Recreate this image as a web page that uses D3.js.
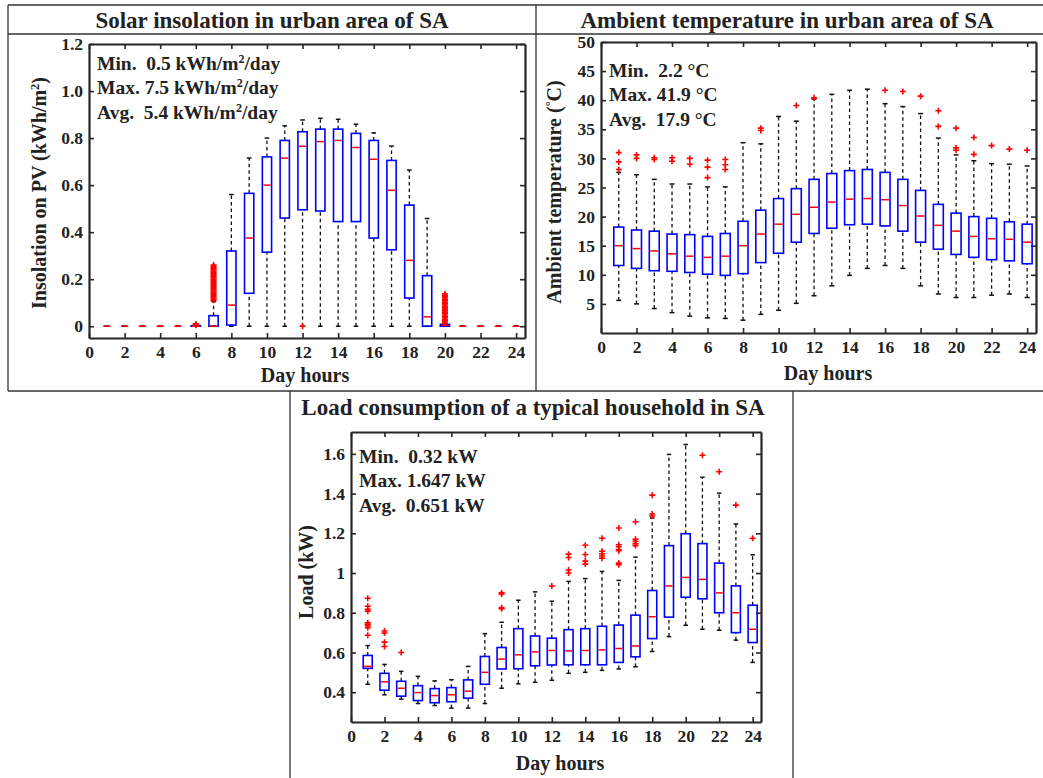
<!DOCTYPE html>
<html>
<head>
<meta charset="utf-8">
<script src="https://cdn.jsdelivr.net/npm/d3@7"></script>
<style>
body { margin: 0; background: #fff; }
text { font-family: "Liberation Serif", "Times New Roman", serif; font-weight: bold; fill: #222; }
</style>
</head>
<body>
<script>
// categories
const hours = [1, 2, 3, 4, 5, 6, 7, 8, 9, 10, 11, 12, 13, 14, 15, 16, 17, 18, 19, 20, 21, 22, 23, 24];
const xTicks = [0, 2, 4, 6, 8, 10, 12, 14, 16, 18, 20, 22, 24];

// solar insolation (kWh/m2)
const solarLow  = [0, 0, 0, 0, 0, 0, 0, 0, 0, 0, 0, 0, 0, 0, 0, 0, 0, 0, 0, 0, 0, 0, 0, 0];
const solarQ1   = [0, 0, 0, 0, 0, 0, 0, 0.005, 0.14, 0.315, 0.46, 0.495, 0.49, 0.445, 0.445, 0.375, 0.325, 0.12, 0, 0, 0, 0, 0, 0];
const solarMed  = [0, 0, 0, 0, 0, 0, 0, 0.09, 0.375, 0.60, 0.715, 0.765, 0.785, 0.79, 0.76, 0.71, 0.578, 0.28, 0.04, 0.004, 0, 0, 0, 0];
const solarQ3   = [0, 0, 0, 0, 0, 0.002, 0.045, 0.32, 0.565, 0.72, 0.79, 0.827, 0.838, 0.838, 0.82, 0.79, 0.705, 0.515, 0.215, 0.008, 0, 0, 0, 0];
const solarHigh = [0, 0, 0, 0, 0, 0.002, 0.105, 0.56, 0.715, 0.80, 0.852, 0.877, 0.884, 0.88, 0.859, 0.822, 0.766, 0.664, 0.458, 0.01, 0, 0, 0, 0];
const solarOut  = [[], [], [], [], [], [0.004, 0.007, 0.01],
  [0.11, 0.115, 0.12, 0.125, 0.13, 0.135, 0.14, 0.145, 0.15, 0.155, 0.16, 0.165, 0.17, 0.175, 0.18, 0.185, 0.19, 0.195, 0.2, 0.205, 0.21, 0.215, 0.22, 0.225, 0.23, 0.235, 0.24, 0.245, 0.25, 0.255, 0.26],
  [], [], [], [], [0], [], [], [], [], [], [], [],
  [0.012, 0.018, 0.024, 0.03, 0.036, 0.042, 0.048, 0.054, 0.06, 0.066, 0.072, 0.078, 0.084, 0.09, 0.096, 0.102, 0.108, 0.114, 0.12, 0.126, 0.132, 0.138],
  [], [], [], []];
const solarTicks = [0, 0.2, 0.4, 0.6, 0.8, 1.0, 1.2];
const solarTickLabels = ["0", "0.2", "0.4", "0.6", "0.8", "1.0", "1.2"];

// ambient temperature (C)
const tempLow  = [5.6, 5.0, 4.2, 3.5, 2.9, 2.6, 2.5, 2.2, 3.2, 3.9, 5.1, 6.4, 8.1, 9.9, 11.1, 11.6, 11.1, 8.1, 6.7, 6.1, 6.1, 6.5, 6.7, 6.1];
const tempQ1   = [11.6, 11.1, 10.7, 10.6, 10.4, 10.1, 9.9, 10.2, 12.1, 13.7, 15.6, 17.1, 18.0, 18.6, 18.7, 18.4, 17.5, 15.6, 14.4, 13.5, 13.0, 12.6, 12.4, 11.9];
const tempMed  = [15.0, 14.5, 14.1, 13.6, 13.2, 13.0, 13.2, 15.0, 17.0, 18.7, 20.4, 21.6, 22.5, 23.0, 23.1, 22.9, 21.9, 20.1, 18.5, 17.5, 16.6, 16.2, 16.1, 15.6];
const tempQ3   = [18.2, 17.7, 17.5, 17.0, 16.9, 16.6, 17.1, 19.2, 21.1, 23.1, 24.8, 26.4, 27.4, 27.9, 28.1, 27.6, 26.4, 24.5, 22.1, 20.6, 20.0, 19.7, 19.1, 18.7];
const tempHigh = [27.6, 27.2, 26.4, 25.6, 25.6, 25.1, 25.1, 32.7, 32.5, 37.2, 36.4, 40.2, 41.0, 41.7, 41.9, 39.4, 38.9, 37.7, 33.5, 30.6, 29.6, 29.1, 29.0, 28.7];
const tempOut  = [[31.0, 29.4, 28.1], [30.6, 30.0], [30.1, 29.8], [30.1, 29.5], [30.0, 29.0], [29.7, 28.5, 26.7],
  [29.8, 28.9, 28.1], [], [35.2, 34.8], [], [39.1], [40.4], [], [], [], [41.7], [41.5], [40.7],
  [38.2, 35.5], [35.2, 31.8, 31.4], [33.6, 30.7], [32.2], [31.6], [31.4]];
const tempTicks = [5, 10, 15, 20, 25, 30, 35, 40, 45, 50];
const tempTickLabels = ["5", "10", "15", "20", "25", "30", "35", "40", "45", "50"];

// household load (kW)
const loadLow  = [0.44, 0.387, 0.365, 0.343, 0.333, 0.32, 0.32, 0.343, 0.42, 0.442, 0.45, 0.46, 0.495, 0.5, 0.51, 0.517, 0.528, 0.605, 0.68, 0.737, 0.717, 0.712, 0.662, 0.55];
const loadQ1   = [0.52, 0.41, 0.38, 0.358, 0.347, 0.352, 0.37, 0.44, 0.517, 0.518, 0.533, 0.537, 0.538, 0.538, 0.538, 0.55, 0.578, 0.67, 0.778, 0.878, 0.87, 0.8, 0.7, 0.65];
const loadMed  = [0.53, 0.452, 0.42, 0.398, 0.383, 0.387, 0.405, 0.5, 0.567, 0.588, 0.603, 0.61, 0.608, 0.61, 0.613, 0.62, 0.633, 0.78, 0.935, 0.978, 0.968, 0.9, 0.8, 0.717];
const loadQ3   = [0.585, 0.495, 0.455, 0.433, 0.418, 0.423, 0.462, 0.58, 0.625, 0.72, 0.683, 0.672, 0.715, 0.72, 0.732, 0.738, 0.788, 0.912, 1.138, 1.198, 1.148, 1.05, 0.935, 0.838];
const loadHigh = [0.635, 0.54, 0.505, 0.48, 0.457, 0.463, 0.53, 0.695, 0.752, 0.863, 0.905, 0.858, 0.958, 0.972, 1.008, 0.963, 1.08, 1.277, 1.597, 1.647, 1.482, 1.402, 1.247, 1.092];
const loadOut  = [[0.873, 0.833, 0.818, 0.808, 0.75, 0.742, 0.735, 0.725, 0.687], [0.708, 0.698, 0.652, 0.63], [0.6], [], [], [], [], [],
  [0.9, 0.895, 0.825, 0.82], [], [], [0.935], [1.095, 1.078, 1.015, 1.0], [1.14, 1.093, 1.06, 1.045],
  [1.175, 1.11, 1.097, 1.087, 1.075], [1.227, 1.142, 1.132, 1.118, 1.112, 1.05, 1.042], [1.258, 1.17, 1.16, 1.148, 1.138],
  [1.392, 1.297, 1.287], [], [], [1.593], [1.51], [1.342], [1.175]];
const loadTicks = [0.4, 0.6, 0.8, 1, 1.2, 1.4, 1.6];
const loadTickLabels = ["0.4", "0.6", "0.8", "1", "1.2", "1.4", "1.6"];

const svg = d3.select("body").append("svg")
    .attr("width", 1043)
    .attr("height", 778);

// table frame around the three panels
const frame = [
    [8, 5, 1043, 5], [8, 34, 1043, 34], [8, 391, 1043, 391],
    [8, 5, 8, 391], [536, 5, 536, 391],
    [290, 391, 290, 778], [793, 391, 793, 778]
];
frame.forEach(f =>
    svg.append("line")
        .attr("x1", f[0]).attr("y1", f[1])
        .attr("x2", f[2]).attr("y2", f[3])
        .attr("stroke", "#333")
        .attr("stroke-width", 1.3)
);

function addText(x, y, size, parts, anchor, rotate) {
    let t = svg.append("text")
        .attr("font-size", size)
        .attr("text-anchor", anchor || "start")
        .style("white-space", "pre");
    if (rotate) t.attr("transform", `translate(${x},${y}) rotate(-90)`);
    else t.attr("x", x).attr("y", y);
    parts.forEach(p => {
        if (typeof p === "string") t.append("tspan").text(p);
        else t.append("tspan").attr("baseline-shift", "super").attr("font-size", size * 0.62).text(p.sup);
    });
    return t;
}

function boxPanel(o) {
    let x = d3.scaleLinear().domain([0, 24.5]).range([o.left, o.right]);
    let y = d3.scaleLinear().domain(o.yDomain).range([o.bottom, o.top]);
    let g = svg.append("g");

    // axes, ticks inward on all four sides
    let axB = g.append("g").attr("transform", `translate(0,${o.bottom})`)
        .call(d3.axisBottom(x).tickValues(xTicks).tickSize(-5).tickSizeOuter(0).tickPadding(8).tickFormat(d3.format("d")));
    let axT = g.append("g").attr("transform", `translate(0,${o.top})`)
        .call(d3.axisTop(x).tickValues(xTicks).tickSize(-5).tickSizeOuter(0).tickFormat(""));
    let axL = g.append("g").attr("transform", `translate(${o.left},0)`)
        .call(d3.axisLeft(y).tickValues(o.ticks).tickSize(-5).tickSizeOuter(0).tickPadding(6)
            .tickFormat((d, i) => o.tickLabels[i]));
    let axR = g.append("g").attr("transform", `translate(${o.right},0)`)
        .call(d3.axisRight(y).tickValues(o.ticks).tickSize(-5).tickSizeOuter(0).tickFormat(""));
    [axB, axT, axL, axR].forEach(a => {
        a.select(".domain").attr("stroke", "#262626").attr("stroke-width", 2.2);
        a.selectAll(".tick line").attr("stroke", "#262626").attr("stroke-width", 1.6);
        a.selectAll("text").attr("font-size", 17.5).attr("font-family", null).attr("fill", "#333");
    });

    let bw = x(o.boxW) - x(0);
    let cw = bw / 2;

    hours.forEach((h, i) => {
        let cx = x(h);
        // whiskers
        [[o.low[i], o.q1[i]], [o.q3[i], o.high[i]]].forEach(w => {
            if (w[0] !== w[1])
                g.append("line")
                    .attr("x1", cx).attr("x2", cx)
                    .attr("y1", y(w[0])).attr("y2", y(w[1]))
                    .attr("stroke", "#111").attr("stroke-width", 1.3)
                    .attr("stroke-dasharray", "3.5,3");
        });
        [o.low[i], o.high[i]].forEach(v =>
            g.append("line")
                .attr("x1", cx - cw / 2).attr("x2", cx + cw / 2)
                .attr("y1", y(v)).attr("y2", y(v))
                .attr("stroke", "#111").attr("stroke-width", 1.5)
        );
        // box
        g.append("rect")
            .attr("x", cx - bw / 2)
            .attr("y", y(o.q3[i]))
            .attr("width", bw)
            .attr("height", Math.max(0, y(o.q1[i]) - y(o.q3[i])))
            .attr("fill", "none")
            .attr("stroke", "#0000ff")
            .attr("stroke-width", 1.6);
        // median
        g.append("line")
            .attr("x1", cx - bw / 2 + 1).attr("x2", cx + bw / 2 - 1)
            .attr("y1", y(o.med[i])).attr("y2", y(o.med[i]))
            .attr("stroke", "#ff0000").attr("stroke-width", 1.5);
        // outliers
        o.out[i].forEach(v =>
            g.append("path")
                .attr("d", `M${cx - 3},${y(v)}H${cx + 3}M${cx},${y(v) - 3}V${y(v) + 3}`)
                .attr("stroke", "#ff0000").attr("stroke-width", 1.6)
        );
    });

    addText(o.titleX, o.titleY, 23, [o.title], "middle");
    addText(o.xLabelX, o.xLabelY, 20, ["Day hours"], "middle");
    addText(o.yLabelX, o.yLabelY, 20, o.yLabel, "middle", true);
    o.notes.forEach((n, k) => addText(o.left + 8, o.top + o.noteY + k * 24.3, 19.5, n));
}

boxPanel({
    left: 89, right: 525, top: 44, bottom: 338, yDomain: [-0.05, 1.2], boxW: 0.52,
    ticks: solarTicks, tickLabels: solarTickLabels,
    low: solarLow, q1: solarQ1, med: solarMed, q3: solarQ3, high: solarHigh, out: solarOut,
    title: "Solar insolation in urban area of SA", titleX: 272, titleY: 28,
    xLabelX: 305, xLabelY: 382,
    yLabel: ["Insolation on PV (kWh/m", { sup: "2" }, ")"], yLabelX: 46, yLabelY: 193,
    noteY: 26,
    notes: [["Min.  0.5 kWh/m", { sup: "2" }, "/day"], ["Max. 7.5 kWh/m", { sup: "2" }, "/day"], ["Avg.  5.4 kWh/m", { sup: "2" }, "/day"]]
});

boxPanel({
    left: 601, right: 1036, top: 42, bottom: 333, yDomain: [0, 50], boxW: 0.56,
    ticks: tempTicks, tickLabels: tempTickLabels,
    low: tempLow, q1: tempQ1, med: tempMed, q3: tempQ3, high: tempHigh, out: tempOut,
    title: "Ambient temperature in urban area of SA", titleX: 787, titleY: 28,
    xLabelX: 828, xLabelY: 380,
    yLabel: ["Ambient temperature (", { sup: "°" }, "C)"], yLabelX: 561, yLabelY: 192,
    noteY: 35,
    notes: [["Min.  2.2 °C"], ["Max. 41.9 °C"], ["Avg.  17.9 °C"]]
});

boxPanel({
    left: 351, right: 761, top: 432, bottom: 722, yDomain: [0.25, 1.71], boxW: 0.54,
    ticks: loadTicks, tickLabels: loadTickLabels,
    low: loadLow, q1: loadQ1, med: loadMed, q3: loadQ3, high: loadHigh, out: loadOut,
    title: "Load consumption of a typical household in SA", titleX: 533, titleY: 415,
    xLabelX: 560, xLabelY: 770,
    yLabel: ["Load (kW)"], yLabelX: 313, yLabelY: 572,
    noteY: 31,
    notes: [["Min.  0.32 kW"], ["Max. 1.647 kW"], ["Avg.  0.651 kW"]]
});
</script>
</body>
</html>
